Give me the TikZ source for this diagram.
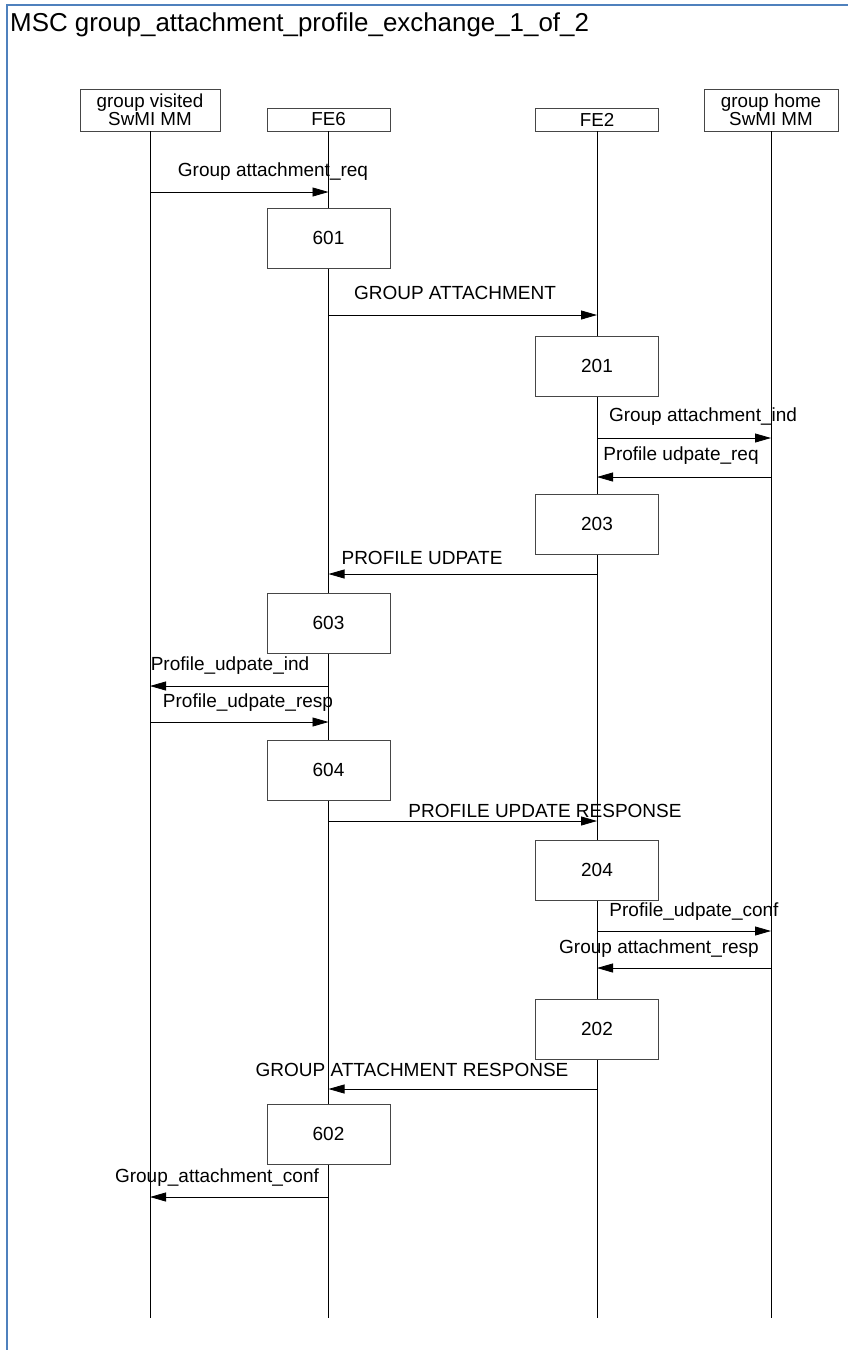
\documentclass[tikz,border=0pt]{standalone}
\usepackage{fontspec}
\setmainfont{Liberation Sans}
\usetikzlibrary{arrows.meta, positioning}
\definecolor{framblue}{RGB}{79, 129, 189}
\definecolor{boxgray}{RGB}{70, 70, 70}

\tikzset{
  instbox/.style={draw=boxgray, fill=white, inner sep=0pt, align=center,
                  font=\fontsize{18.8}{18.5}\selectfont},
  actbox/.style={draw=boxgray, fill=white, inner sep=0pt,
                 minimum width=123pt, minimum height=60pt,
                 font=\fontsize{19}{20}\selectfont},
  msg/.style={-{Triangle[length=16pt, width=9pt]}, line width=0.8pt},
  msglabel/.style={inner sep=0pt, font=\fontsize{19}{20}\selectfont},
  lifeline/.style={line width=0.8pt}
}

\begin{document}
\begin{tikzpicture}[x=1pt, y=-1pt]

\useasboundingbox (0,0) rectangle (848,1350);

% frame
\draw[framblue, line width=2pt] (7,1350) -- (7,5) -- (848,5);
\node[anchor=west, inner sep=0pt, font=\fontsize{25.9}{28}\selectfont] (title) at (10,25)
  {MSC group\_attachment\_profile\_exchange\_1\_of\_2};

% instances
\node[instbox, minimum width=140pt, minimum height=42pt] (vis) at (150,110)
  {group visited\\SwMI MM};
\node[instbox, minimum width=123pt, minimum height=23pt] (fe6) at (328.5,119.5) {FE6};
\node[instbox, minimum width=123pt, minimum height=23pt] (fe2) at (597,119.5) {FE2};
\node[instbox, minimum width=134pt, minimum height=42pt] (home) at (771,110)
  {group home\\SwMI MM};

% lifelines
\draw[lifeline] (vis.south) -- (vis |- 0,1318);
\draw[lifeline] (fe6.south) -- (fe6 |- 0,1318);
\draw[lifeline] (fe2.south) -- (fe2 |- 0,1318);
\draw[lifeline] (home.south) -- (home |- 0,1318);

% FE6 side, attach request
\draw[msg] (vis |- 0,192) -- (fe6 |- 0,192);
\node[msglabel] (l1) at (273,172) {Group attachment\_req};
\node[actbox] (b601) at (328.5,238) {601};

\draw[msg] (fe6 |- 0,315) -- (fe2 |- 0,315);
\node[msglabel] (l2) at (455,293) {GROUP ATTACHMENT};
\node[actbox] (b201) at (597,366) {201};

% FE2 <-> group home
\draw[msg] (fe2 |- 0,438) -- (home |- 0,438);
\node[msglabel] (l3) at (703,417) {Group attachment\_ind};
\draw[msg] (home |- 0,477) -- (fe2 |- 0,477);
\node[msglabel] (l4) at (681,456) {Profile udpate\_req};
\node[actbox] (b203) at (597,524) {203};

\draw[msg] (fe2 |- 0,574) -- (fe6 |- 0,574);
\node[msglabel] (l5) at (422,558) {PROFILE UDPATE};
\node[actbox] (b603) at (328.5,623) {603};

% FE6 <-> group visited
\draw[msg] (fe6 |- 0,686) -- (vis |- 0,686);
\node[msglabel] (l6) at (230,666) {Profile\_udpate\_ind};
\draw[msg] (vis |- 0,722) -- (fe6 |- 0,722);
\node[msglabel] (l7) at (248,703) {Profile\_udpate\_resp};
\node[actbox] (b604) at (328.5,770) {604};

\draw[msg] (fe6 |- 0,821) -- (fe2 |- 0,821);
\node[msglabel] (l8) at (545,811) {PROFILE UPDATE RESPONSE};
\node[actbox] (b204) at (597,870) {204};

\draw[msg] (fe2 |- 0,931) -- (home |- 0,931);
\node[msglabel] (l9) at (694,912) {Profile\_udpate\_conf};
\draw[msg] (home |- 0,968) -- (fe2 |- 0,968);
\node[msglabel] (l10) at (659,949) {Group attachment\_resp};
\node[actbox] (b202) at (597,1029) {202};

% responses back to group visited
\draw[msg] (fe2 |- 0,1089) -- (fe6 |- 0,1089);
\node[msglabel] (l11) at (412,1070) {GROUP ATTACHMENT RESPONSE};
\node[actbox] (b602) at (328.5,1134) {602};

\draw[msg] (fe6 |- 0,1197) -- (vis |- 0,1197);
\node[msglabel] (l12) at (217,1178) {Group\_attachment\_conf};

\end{tikzpicture}
\end{document}
